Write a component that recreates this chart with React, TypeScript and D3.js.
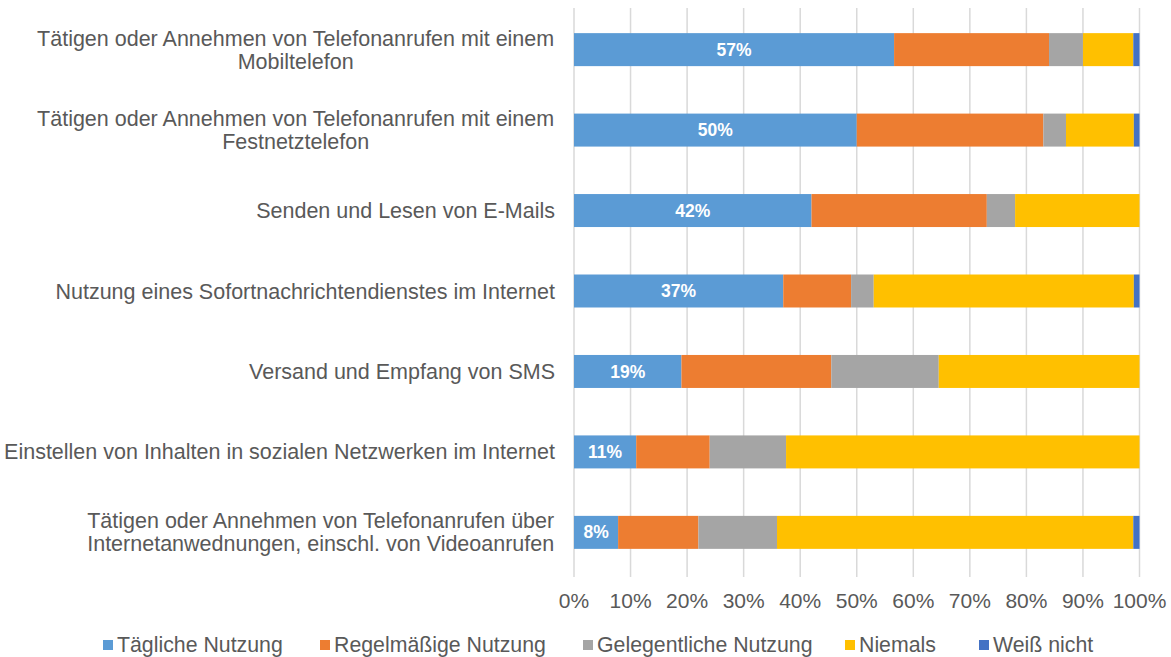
import React from "react";
import * as d3 from "d3";

const categories: string[][] = [
  ["Tätigen oder Annehmen von Telefonanrufen mit einem", "Mobiltelefon"],
  ["Tätigen oder Annehmen von Telefonanrufen mit einem", "Festnetztelefon"],
  ["Senden und Lesen von E-Mails"],
  ["Nutzung eines Sofortnachrichtendienstes im Internet"],
  ["Versand und Empfang von SMS"],
  ["Einstellen von Inhalten in sozialen Netzwerken im Internet"],
  ["Tätigen oder Annehmen von Telefonanrufen über", "Internetanwednungen, einschl. von Videoanrufen"],
];

const seriesNames = ["Tägliche Nutzung", "Regelmäßige Nutzung", "Gelegentliche Nutzung", "Niemals", "Weiß nicht"];
const colors = ["#5B9BD5", "#ED7D31", "#A5A5A5", "#FFC000", "#4472C4"];

const taeglich = [56.6, 50, 42, 37, 19, 11, 7.8];
const regelmaessig = [27.4, 33, 31, 12, 26.5, 13, 14.2];
const gelegentlich = [6, 4, 5, 4, 19, 13.5, 13.9];
const niemals = [8.9, 12, 22, 46, 35.5, 62.5, 63];
const weissNicht = [1.1, 1, 0, 1, 0, 0, 1.1];

const ticks = [0, 10, 20, 30, 40, 50, 60, 70, 80, 90, 100];

const W = 1171;
const H = 657;
const FONT = "'Liberation Sans', Arial, sans-serif";
const LABEL_SIZE = 21.5;
const TICK_SIZE = 21;
const LEGEND_SIZE = 21.3;

function measure(text: string, size: number): number {
  if (typeof document === "undefined") return text.length * size * 0.5;
  const c = document.createElement("canvas");
  const ctx = c.getContext("2d");
  if (!ctx) return text.length * size * 0.5;
  ctx.font = `${size}px ${FONT}`;
  return ctx.measureText(text).width;
}

export default function App() {
  const x = d3.scaleLinear().domain([0, 100]).range([574, 1139.5]);
  const y = d3.scaleBand<number>().domain(d3.range(categories.length)).range([9, 573]).paddingInner(0.59).paddingOuter(0.3);
  const series = [taeglich, regelmaessig, gelegentlich, niemals, weissNicht];
  const rows = categories.map((_, i) => ({ i, vals: series.map((s) => s[i]) }));
  const stack = d3.stack<any, any, number>().keys(d3.range(series.length)).value((d: any, k: number) => d.vals[k]);
  const stacked = stack(rows);
  const legendX = [103, 320, 583, 845, 979];
  const labelRight = 555;

  return (
    <svg width={W} height={H} style={{ position: "absolute", left: 0, top: 0, background: "#fff" }} fontFamily={FONT}>
      {ticks.map((t) => (
        <line key={t} x1={x(t)} x2={x(t)} y1={8} y2={577} stroke="#D9D9D9" strokeWidth={1.5} />
      ))}
      {stacked.map((layer, k) => (
        <g key={k} fill={colors[k]}>
          {layer.map((d, i) => (
            <rect key={i} x={x(d[0])} y={y(i)} width={Math.max(0, x(d[1]) - x(d[0]))} height={y.bandwidth()} />
          ))}
        </g>
      ))}
      {taeglich.map((v, i) => (
        <text key={i} x={(x(0) + x(v)) / 2} y={y(i)! + y.bandwidth() / 2} dy="0.35em" textAnchor="middle" fill="#fff" fontWeight="bold" fontSize={17.5}>
          {Math.round(v)}%
        </text>
      ))}
      {categories.map((lines, i) => {
        const cy = y(i)! + y.bandwidth() / 2;
        const lh = 23;
        const maxW = Math.max(...lines.map((l) => measure(l, LABEL_SIZE)));
        const multi = lines.length > 1;
        const cx = labelRight - maxW / 2;
        return (
          <text key={i} textAnchor={multi ? "middle" : "end"} fill="#595959" fontSize={LABEL_SIZE}>
            {lines.map((l, j) => (
              <tspan key={j} x={multi ? cx : labelRight} y={cy + (j - (lines.length - 1) / 2) * lh} dy="0.35em">
                {l}
              </tspan>
            ))}
          </text>
        );
      })}
      {ticks.map((t) => (
        <text key={t} x={x(t)} y={601} dy="0.35em" textAnchor="middle" fill="#595959" fontSize={TICK_SIZE}>
          {t}%
        </text>
      ))}
      {seriesNames.map((n, k) => (
        <g key={n}>
          <rect x={legendX[k]} y={640} width={10} height={10} fill={colors[k]} />
          <text x={legendX[k] + 14} y={645} dy="0.35em" fill="#595959" fontSize={LEGEND_SIZE}>
            {n}
          </text>
        </g>
      ))}
    </svg>
  );
}
